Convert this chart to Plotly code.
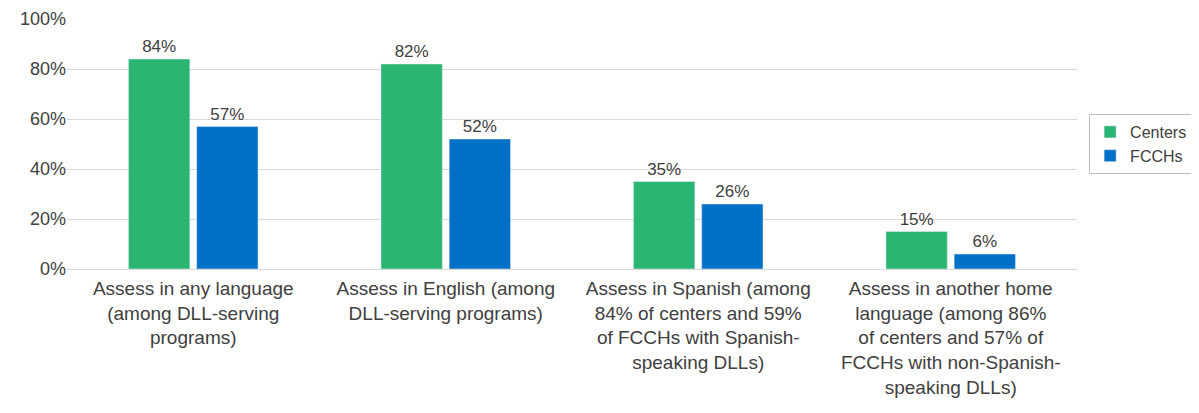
import plotly.graph_objects as go

categories = [
    "Assess in any language<br>(among DLL-serving<br>programs)",
    "Assess in English (among<br>DLL-serving programs)",
    "Assess in Spanish (among<br>84% of centers and 59%<br>of FCCHs with Spanish-<br>speaking DLLs)",
    "Assess in another home<br>language (among 86%<br>of centers and 57% of<br>FCCHs with non-Spanish-<br>speaking DLLs)",
]
centers = [84, 82, 35, 15]
fcchs = [57, 52, 26, 6]
tick_vals = [0, 20, 40, 60, 80, 100]
tick_text = [f"{v}%" for v in tick_vals]

FONT = "Liberation Sans Narrow, Arial Narrow, Liberation Sans, sans-serif"
TXT = "#404040"

fig = go.Figure()
fig.add_trace(go.Bar(
    name="Centers", x=categories, y=centers,
    marker=dict(color="#2AB573"),
    text=[f"{v}%" for v in centers], textposition="outside",
    textfont=dict(size=17, color=TXT, family=FONT), cliponaxis=False,
))
fig.add_trace(go.Bar(
    name="FCCHs", x=categories, y=fcchs,
    marker=dict(color="#0071C7"),
    text=[f"{v}%" for v in fcchs], textposition="outside",
    textfont=dict(size=17, color=TXT, family=FONT), cliponaxis=False,
))

# page body has an 8px margin, so the figure starts at (8, 8)
fig.update_layout(
    width=1191, height=405,
    margin=dict(l=59, r=122, t=11, b=144, autoexpand=False),
    paper_bgcolor="white", plot_bgcolor="white",
    barmode="group", bargap=0.46, bargroupgap=0.1,
    font=dict(family=FONT, color=TXT, size=18),
    legend=dict(
        x=1.012, y=0.5, xanchor="left", yanchor="middle",
        bordercolor="#bfbfbf", borderwidth=1,
        font=dict(size=16, color=TXT, family=FONT),
        itemwidth=30, tracegroupgap=2,
    ),
)
fig.update_xaxes(
    tickfont=dict(size=19, color=TXT, family=FONT),
    showline=False, ticks="", automargin=False, ticklabelstandoff=6,
)
fig.update_yaxes(
    range=[0, 100], tickmode="array", tickvals=tick_vals, ticktext=tick_text,
    tickfont=dict(size=18, color=TXT, family=FONT),
    showgrid=True, gridcolor="#d9d9d9", gridwidth=1,
    zeroline=True, zerolinecolor="#d9d9d9", zerolinewidth=1,
    ticks="", automargin=False, ticklabeloverflow="allow",
)

fig.write_html("out.html")
